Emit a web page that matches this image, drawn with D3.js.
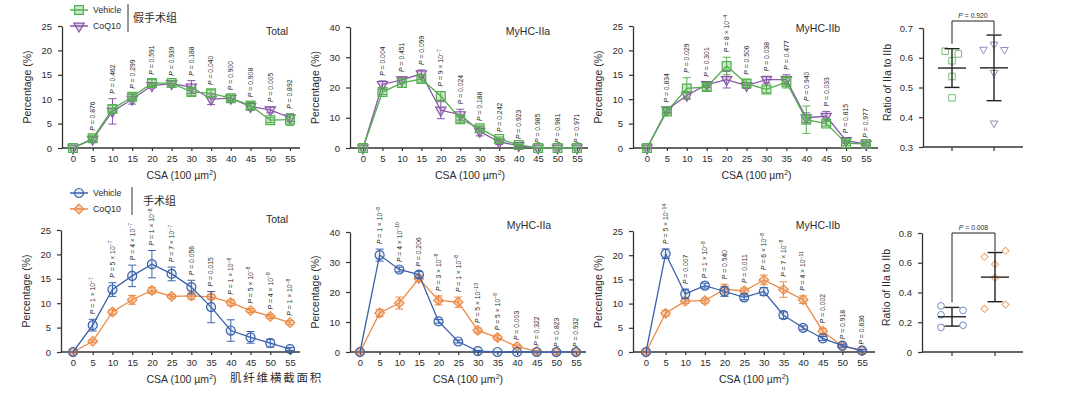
<!DOCTYPE html>
<html>
<head>
<meta charset="utf-8">
<script src="https://cdn.jsdelivr.net/npm/d3@7"></script>
<style>
  body { margin: 0; background: #fff; }
  svg text { font-family: "Liberation Sans", Arial, sans-serif; fill: #2b2b2b; }
  .cjk { font-family: "Noto Sans CJK SC", sans-serif !important; }
</style>
</head>
<body>
<svg id="fig" width="1080" height="394"></svg>
<script>
// ---- data ----
const csa = [0, 5, 10, 15, 20, 25, 30, 35, 40, 45, 50, 55];

// sham (假手术组)
const shamTotalVeh   = [0, 2.0, 8.0, 10.5, 13.3, 13.3, 11.5, 11.2, 10.2, 8.7, 5.7, 5.8];
const shamTotalVehSd = [0, 0.5, 0.8, 0.6, 0.7, 0.5, 0.7, 0.7, 0.6, 0.7, 0.5, 1.2];
const shamTotalCoq   = [0, 1.8, 7.5, 10.0, 12.8, 13.2, 12.5, 10.0, 10.2, 8.5, 7.8, 6.2];
const shamTotalCoqSd = [0, 0.4, 2.6, 1.0, 0.5, 0.5, 1.3, 1.1, 0.5, 0.8, 0.6, 0.8];
const shamTotalP = ["0.876", "0.462", "0.299", "0.591", "0.939", "0.188", "0.040", "0.900", "0.908", "0.005", "0.892"];

const shamIIaVeh   = [0, 18.5, 21.5, 22.8, 17.2, 9.5, 6.5, 3.0, 1.0, 0, 0, 0];
const shamIIaVehSd = [0, 0.8, 1.5, 1.0, 1.5, 1.0, 0.8, 0.6, 0.3, 0, 0, 0];
const shamIIaCoq   = [0, 21.0, 22.5, 24.5, 12.5, 11.0, 5.5, 2.0, 0.8, 0, 0, 0];
const shamIIaCoqSd = [0, 1.2, 1.0, 1.3, 2.8, 1.8, 1.5, 0.8, 0.3, 0, 0, 0];
const shamIIaP = ["0.004", "0.451", "0.099", "9 × 10^-7", "0.024", "0.188", "0.242", "0.923", "0.985", "0.981", "0.971"];

const shamIIbVeh   = [0, 7.5, 12.2, 12.5, 16.8, 13.2, 12.0, 13.5, 5.8, 5.0, 1.0, 0.8];
const shamIIbVehSd = [0, 0.5, 2.2, 0.7, 1.8, 0.8, 0.7, 1.2, 2.8, 0.5, 0.5, 0.3];
const shamIIbCoq   = [0, 7.8, 10.8, 13.0, 14.0, 12.8, 14.0, 14.0, 6.2, 6.5, 1.5, 0.8];
const shamIIbCoqSd = [0, 0.5, 0.7, 0.6, 1.7, 0.6, 0.7, 1.0, 1.0, 1.0, 0.5, 0.3];
const shamIIbP = ["0.834", "0.029", "0.301", "8 × 10^-4", "0.506", "0.038", "0.477", "0.940", "0.033", "0.815", "0.977"];

const shamRatioVeh = [0.622, 0.613, 0.59, 0.537, 0.465];
const shamRatioCoq = [0.628, 0.645, 0.627, 0.55, 0.38];
const shamRatioP = "0.920";

// surgery (手术组)
const surgTotalVeh   = [0, 5.5, 12.8, 15.6, 18.0, 16.0, 13.3, 9.2, 4.4, 3.0, 1.8, 0.6];
const surgTotalVehSd = [0, 1.2, 1.4, 2.2, 2.8, 1.4, 1.4, 3.2, 2.2, 1.2, 0.8, 0.3];
const surgTotalCoq   = [0, 2.2, 8.2, 10.7, 12.6, 11.4, 11.5, 11.3, 10.1, 8.5, 7.3, 6.0];
const surgTotalCoqSd = [0, 0.3, 0.5, 0.9, 0.6, 0.4, 0.7, 0.5, 0.6, 0.4, 0.4, 0.4];
const surgTotalP = ["1 × 10^-7", "5 × 10^-7", "4 × 10^-7", "1 × 10^-8", "7 × 10^-7", "0.056", "0.015", "1 × 10^-8", "5 × 10^-8", "4 × 10^-8", "1 × 10^-8"];

const surgIIaVeh   = [0, 32.3, 27.5, 25.8, 10.2, 3.5, 0.3, 0, 0, 0, 0, 0];
const surgIIaVehSd = [0, 2.0, 0.8, 1.0, 0.6, 0.5, 0.2, 0, 0, 0, 0, 0];
const surgIIaCoq   = [0, 13.0, 16.3, 24.5, 17.2, 16.6, 7.2, 4.8, 1.8, 0.2, 0, 0];
const surgIIaCoqSd = [0, 1.2, 2.0, 1.0, 1.5, 1.7, 0.8, 0.8, 0.5, 0.2, 0, 0];
const surgIIaP = ["1 × 10^-8", "4 × 10^-10", "0.206", "3 × 10^-8", "1 × 10^-8", "5 × 10^-13", "5 × 10^-9", "0.003", "0.322", "0.823", "0.932"];

const surgIIbVeh   = [0, 20.3, 12.0, 13.7, 12.5, 11.3, 12.5, 7.6, 5.0, 2.8, 1.3, 0.3];
const surgIIbVehSd = [0, 1.0, 1.0, 0.5, 1.0, 0.5, 0.8, 0.7, 0.4, 0.4, 0.3, 0.2];
const surgIIbCoq   = [0, 8.0, 10.5, 10.6, 13.0, 12.6, 14.9, 12.9, 10.8, 4.3, 1.2, 0.3];
const surgIIbCoqSd = [0, 0.6, 0.5, 0.5, 1.0, 0.6, 1.0, 1.6, 0.8, 0.6, 0.3, 0.2];
const surgIIbP = ["5 × 10^-14", "0.007", "1 × 10^-8", "0.540", "0.011", "6 × 10^-8", "7 × 10^-8", "4 × 10^-11", "0.002", "0.918", "0.636"];

const surgRatioVeh = [0.31, 0.25, 0.165, 0.28, 0.18];
const surgRatioCoq = [0.68, 0.64, 0.59, 0.5, 0.32, 0.29];
const surgRatioP = "0.008";

// ---- styles ----
const GREEN = "#55b04f", PURPLE = "#8657a6", BLUE = "#3a62ad", ORANGE = "#ec8a45";
const AXIS = "#333";

const svg = d3.select("#fig");

const shapes = {
  square:   { type: d3.symbolSquare, size: 78, rot: 0 },
  triangle: { type: d3.symbolTriangle, size: 46, rot: 180 },
  circle:   { type: d3.symbolCircle, size: 64, rot: 0 },
  diamond:  { type: d3.symbolSquare, size: 46, rot: 45 }
};

function marker(g, shape, cx, cy, color, fillOp, scale = 1) {
  const s = shapes[shape];
  return g.append("path")
    .attr("d", d3.symbol(s.type, s.size * scale)())
    .attr("transform", `translate(${cx},${cy}) rotate(${s.rot})`)
    .attr("fill", color).attr("fill-opacity", fillOp)
    .attr("stroke", color).attr("stroke-width", 1.2);
}

// writes "P = 1 × 10^-7" style labels with italic P and superscript
function writeP(text, label) {
  text.append("tspan").attr("font-style", "italic").text("P");
  const parts = label.split("^");
  text.append("tspan").text(" = " + parts[0]);
  if (parts[1]) {
    text.append("tspan").attr("dy", -2.5).attr("font-size", "0.75em").text(parts[1].replace("-", "−"));
  }
}

function yLabel(g, x, y, label) {
  g.append("text").attr("transform", `translate(${x},${y}) rotate(-90)`)
    .attr("text-anchor", "middle").attr("font-size", 10.5).text(label);
}

function styleAxis(sel) {
  sel.selectAll("path.domain").attr("stroke", AXIS).attr("stroke-width", 1.3);
  sel.selectAll(".tick line").attr("stroke", AXIS).attr("stroke-width", 1.2);
  sel.selectAll(".tick text").attr("font-size", 9.5).attr("fill", "#333")
    .style("font-family", '"Liberation Sans", Arial, sans-serif');
}

function linePanel(cfg) {
  const g = svg.append("g");
  const x = d3.scaleLinear().domain([0, 55]).range([cfg.x0, cfg.x1]);
  const y = d3.scaleLinear().domain(cfg.yDomain).range([cfg.yBottom, cfg.yTop]);

  const ya = g.append("g").attr("transform", `translate(${cfg.axisX},0)`)
    .call(d3.axisLeft(y).tickValues(cfg.yTicks).tickSize(4).tickPadding(6).tickSizeOuter(0));
  styleAxis(ya);
  const xa = g.append("g").attr("transform", `translate(0,${cfg.yBottom})`)
    .call(d3.axisBottom(x).tickValues(csa).tickSize(3).tickPadding(4));
  xa.select("path.domain").remove();
  styleAxis(xa);
  g.append("line").attr("x1", cfg.axisX).attr("x2", cfg.xEnd)
    .attr("y1", cfg.yBottom).attr("y2", cfg.yBottom)
    .attr("stroke", AXIS).attr("stroke-width", 1.3);

  yLabel(g, cfg.axisX - 31, (cfg.yTop + cfg.yBottom) / 2, "Percentage (%)");
  const xt = g.append("text").attr("x", (cfg.x0 + cfg.x1) / 2).attr("y", cfg.yBottom + 31)
    .attr("text-anchor", "middle").attr("font-size", 10.5);
  xt.append("tspan").text("CSA (100 µm");
  xt.append("tspan").attr("dy", -4).attr("font-size", 7).text("2");
  xt.append("tspan").attr("dy", 4).text(")");

  g.append("text").attr("x", cfg.titleX).attr("y", cfg.titleY)
    .attr("text-anchor", "middle").attr("font-size", 10.5).text(cfg.title);

  // series: CoQ10 drawn first, vehicle on top
  cfg.series.slice().reverse().forEach(s => {
    const pts = csa.map((c, i) => ({ c, v: s.values[i], e: s.sd[i] }));
    g.append("path").datum(pts)
      .attr("d", d3.line().x(d => x(d.c)).y(d => y(d.v)))
      .attr("fill", "none").attr("stroke", s.color).attr("stroke-width", 1.3);
    const eb = g.append("g").attr("stroke", s.color).attr("stroke-width", 1);
    pts.filter(d => d.e > 0).forEach(d => {
      const x0 = x(d.c), top = y(d.v + d.e), bot = y(Math.max(0, d.v - d.e));
      eb.append("line").attr("x1", x0).attr("x2", x0).attr("y1", top).attr("y2", bot);
      eb.append("line").attr("x1", x0 - 4).attr("x2", x0 + 4).attr("y1", top).attr("y2", top);
      eb.append("line").attr("x1", x0 - 4).attr("x2", x0 + 4).attr("y1", bot).attr("y2", bot);
    });
    pts.forEach(d => marker(g, s.shape, x(d.c), y(d.v), s.color, s.fillOp));
  });

  // P-value labels above each bin
  cfg.p.forEach((label, j) => {
    const i = j + 1;
    const top = d3.min(cfg.series, s => y(s.values[i] + s.sd[i]));
    const t = g.append("text")
      .attr("transform", `translate(${x(csa[i]) + 2.4},${top - 5}) rotate(-90)`)
      .attr("font-size", 6.8).attr("text-anchor", "start");
    writeP(t, label);
  });
}

function ratioPanel(cfg) {
  const g = svg.append("g");
  const y = d3.scaleLinear().domain(cfg.yDomain).range([cfg.yBottom, cfg.yTop]);
  const ya = g.append("g").attr("transform", `translate(${cfg.axisX},0)`)
    .call(d3.axisLeft(y).tickValues(cfg.yTicks).tickFormat(cfg.fmt).tickSize(4).tickPadding(6).tickSizeOuter(0));
  styleAxis(ya);
  g.append("line").attr("x1", cfg.axisX).attr("x2", cfg.xEnd)
    .attr("y1", cfg.yBottom).attr("y2", cfg.yBottom)
    .attr("stroke", AXIS).attr("stroke-width", 1.3);
  yLabel(g, cfg.axisX - 32, (cfg.yTop + cfg.yBottom) / 2 - 5, "Ratio of IIa to IIb");

  const tops = [];
  cfg.groups.forEach((grp, k) => {
    const cx = cfg.gx[k];
    g.append("line").attr("x1", cx).attr("x2", cx)
      .attr("y1", cfg.yBottom).attr("y2", cfg.yBottom + 4)
      .attr("stroke", AXIS).attr("stroke-width", 1.2);
    grp.values.forEach((v, i) => {
      marker(g, grp.shape, cx + grp.jitter[i] * cfg.jitterPx, y(v), grp.color, 0, 0.55)
        .attr("stroke-width", 1);
    });
    const m = d3.mean(grp.values), sd = d3.deviation(grp.values);
    const bars = g.append("g").attr("stroke", "#222").attr("stroke-width", 1.4);
    bars.append("line").attr("x1", cx - 14).attr("x2", cx + 14).attr("y1", y(m)).attr("y2", y(m));
    bars.append("line").attr("x1", cx).attr("x2", cx).attr("y1", y(m + sd)).attr("y2", y(m - sd));
    [m + sd, m - sd].forEach(v =>
      bars.append("line").attr("x1", cx - 7.5).attr("x2", cx + 7.5).attr("y1", y(v)).attr("y2", y(v)));
    tops.push(y(m + sd));
  });

  const by = y(cfg.bracketAt);
  g.append("path")
    .attr("d", `M${cfg.gx[0]},${tops[0] - 5}V${by}H${cfg.gx[1]}V${tops[1] - 1}`)
    .attr("fill", "none").attr("stroke", "#222").attr("stroke-width", 1);
  const t = g.append("text").attr("x", (cfg.gx[0] + cfg.gx[1]) / 2).attr("y", by - 3)
    .attr("text-anchor", "middle").attr("font-size", 6.8);
  writeP(t, cfg.p);
}

function legend(x, y, items, group, barX, groupX) {
  const g = svg.append("g");
  items.forEach((it, i) => {
    const yy = y + i * 16;
    g.append("line").attr("x1", x).attr("x2", x + 18).attr("y1", yy).attr("y2", yy)
      .attr("stroke", it.color).attr("stroke-width", 1.5);
    marker(g, it.shape, x + 9, yy, it.color, it.fillOp);
    g.append("text").attr("x", x + 23).attr("y", yy + 3).attr("font-size", 8.8).text(it.name);
  });
  g.append("line").attr("x1", barX).attr("x2", barX).attr("y1", y - 6).attr("y2", y + 22)
    .attr("stroke", "#333").attr("stroke-width", 1);
  g.append("text").attr("class", "cjk").attr("x", groupX).attr("y", y + 12)
    .attr("font-size", 11).text(group);
}

const vehSham = { name: "Vehicle", color: GREEN, shape: "square", fillOp: 0.3 };
const coqSham = { name: "CoQ10", color: PURPLE, shape: "triangle", fillOp: 0.25 };
const vehSurg = { name: "Vehicle", color: BLUE, shape: "circle", fillOp: 0.12 };
const coqSurg = { name: "CoQ10", color: ORANGE, shape: "diamond", fillOp: 0.35 };

const pct25 = [0, 5, 10, 15, 20, 25], pct40 = [0, 10, 20, 30, 40];

// ---- top row: sham ----
linePanel({ axisX: 62, x0: 73, x1: 290, xEnd: 300, yBottom: 148, yTop: 26, yDomain: [0, 25], yTicks: pct25,
  title: "Total", titleX: 277, titleY: 35, p: shamTotalP,
  series: [{ ...vehSham, values: shamTotalVeh, sd: shamTotalVehSd }, { ...coqSham, values: shamTotalCoq, sd: shamTotalCoqSd }] });
linePanel({ axisX: 350, x0: 363, x1: 577, xEnd: 588, yBottom: 148, yTop: 27, yDomain: [0, 40], yTicks: pct40,
  title: "MyHC-IIa", titleX: 528, titleY: 35, p: shamIIaP,
  series: [{ ...vehSham, values: shamIIaVeh, sd: shamIIaVehSd }, { ...coqSham, values: shamIIaCoq, sd: shamIIaCoqSd }] });
linePanel({ axisX: 633, x0: 647, x1: 866, xEnd: 878, yBottom: 148, yTop: 26, yDomain: [0, 25], yTicks: pct25,
  title: "MyHC-IIb", titleX: 818, titleY: 32, p: shamIIbP,
  series: [{ ...vehSham, values: shamIIbVeh, sd: shamIIbVehSd }, { ...coqSham, values: shamIIbCoq, sd: shamIIbCoqSd }] });
ratioPanel({ axisX: 923, xEnd: 1023, gx: [952, 994], jitterPx: 10.5, yBottom: 147, yTop: 28,
  yDomain: [0.3, 0.7], yTicks: [0.3, 0.4, 0.5, 0.6, 0.7], fmt: d3.format(".1f"), bracketAt: 0.7235, p: shamRatioP,
  groups: [
    { values: shamRatioVeh, jitter: [-0.65, 0.6, 0, 0, 0], color: "#77c173", shape: "square" },
    { values: shamRatioCoq, jitter: [-1, 0, 1, 0, 0], color: "#9a86bd", shape: "triangle" }
  ] });
legend(70, 10, [vehSham, coqSham], "假手术组", 128, 133);

// ---- bottom row: surgery ----
linePanel({ axisX: 61, x0: 73, x1: 290, xEnd: 300, yBottom: 352, yTop: 230, yDomain: [0, 25], yTicks: pct25,
  title: "Total", titleX: 277, titleY: 223, p: surgTotalP,
  series: [{ ...vehSurg, values: surgTotalVeh, sd: surgTotalVehSd }, { ...coqSurg, values: surgTotalCoq, sd: surgTotalCoqSd }] });
linePanel({ axisX: 350, x0: 360, x1: 576, xEnd: 586, yBottom: 352, yTop: 232, yDomain: [0, 40], yTicks: pct40,
  title: "MyHC-IIa", titleX: 529, titleY: 229, p: surgIIaP,
  series: [{ ...vehSurg, values: surgIIaVeh, sd: surgIIaVehSd }, { ...coqSurg, values: surgIIaCoq, sd: surgIIaCoqSd }] });
linePanel({ axisX: 633, x0: 646, x1: 862, xEnd: 875, yBottom: 352, yTop: 231, yDomain: [0, 25], yTicks: pct25,
  title: "MyHC-IIb", titleX: 818, titleY: 229, p: surgIIbP,
  series: [{ ...vehSurg, values: surgIIbVeh, sd: surgIIbVehSd }, { ...coqSurg, values: surgIIbCoq, sd: surgIIbCoqSd }] });
ratioPanel({ axisX: 922, xEnd: 1023, gx: [952, 995], jitterPx: 10.5, yBottom: 352, yTop: 233,
  yDomain: [0, 0.8], yTicks: [0, 0.2, 0.4, 0.6, 0.8], fmt: d => d === 0 ? "0" : d3.format(".1f")(d), bracketAt: 0.8, p: surgRatioP,
  groups: [
    { values: surgRatioVeh, jitter: [-1.05, -1.05, -1.05, 1.05, 1.05], color: "#6d8cc4", shape: "circle" },
    { values: surgRatioCoq, jitter: [1, -1, 0, 0, 1, -1], color: "#f0a468", shape: "diamond" }
  ] });
legend(70, 193, [vehSurg, coqSurg], "手术组", 132, 143);

svg.append("text").attr("class", "cjk").attr("x", 230).attr("y", 382)
  .attr("font-size", 11.5).attr("letter-spacing", 1.8).text("肌纤维横截面积");
</script>
</body>
</html>
